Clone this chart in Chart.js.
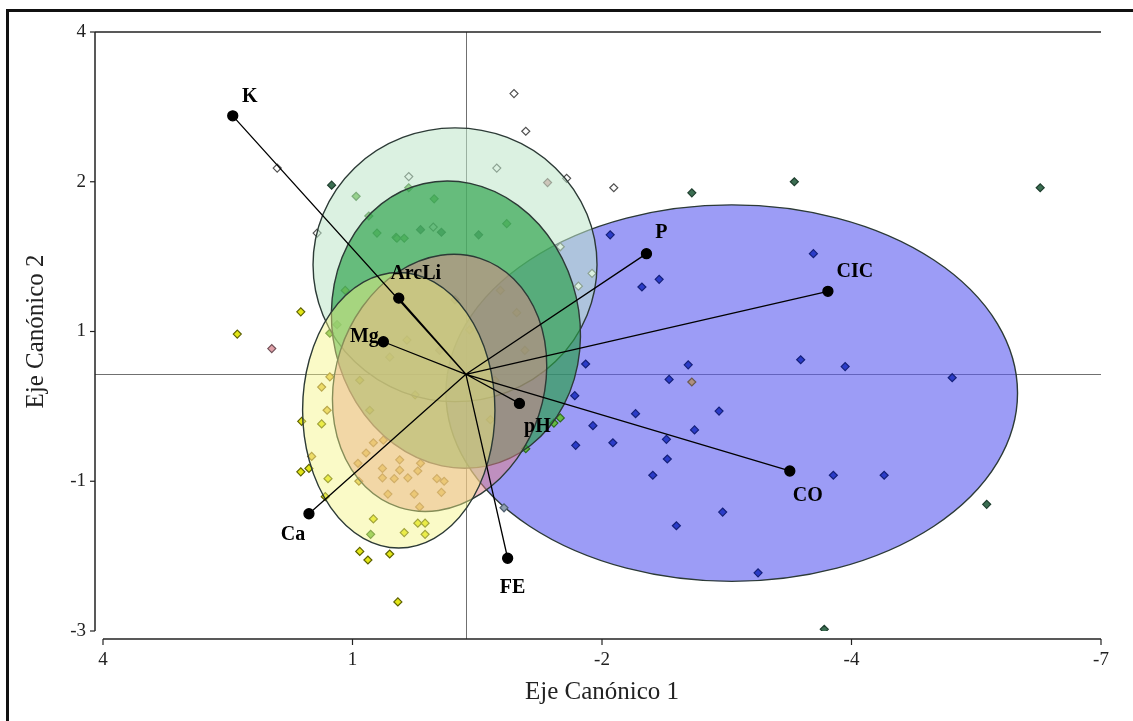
<!DOCTYPE html>
<html lang="es">
<head>
<meta charset="utf-8">
<title>Análisis canónico</title>
<script src="https://cdn.jsdelivr.net/npm/chart.js@4.4.1/dist/chart.umd.min.js"></script>
<style>
    html, body { margin: 0; padding: 0; background: #fff; overflow: hidden; }
    #marco { position: absolute; left: 0; top: 0; width: 1133px; height: 721px; }
    #marco canvas { position: absolute; left: 0; top: 0; }
    #borde {
        position: absolute; left: 6px; top: 9px; width: 1127px; height: 712px;
        box-sizing: border-box; border-left: 3px solid #111; border-top: 3px solid #111;
        pointer-events: none;
    }
</style>
</head>
<body>
<div id="marco">
    <canvas id="grafico" width="1133" height="721"></canvas>
    <div id="borde"></div>
</div>
<script>
// Marcas de los ejes (la escala original muestra los valores redondeados)
const ticksX = [4, 1.25, -1.5, -4.25, -7];
const etiquetasX = ['4', '1', '-2', '-4', '-7'];
const ticksY = [4, 2.25, 0.5, -1.25, -3];
const etiquetasY = ['4', '2', '1', '-1', '-3'];

// Vectores de las variables
const variables = ['K', 'ArcLi', 'Mg', 'Ca', 'FE', 'pH', 'P', 'CIC', 'CO'];
const vectorX = [2.57, 0.74, 0.91, 1.73, -0.46, -0.59, -1.99, -3.99, -3.57];
const vectorY = [3.02, 0.89, 0.38, -1.63, -2.15, -0.34, 1.41, 0.97, -1.13];

// Observaciones por grupo
const blancoX = [2.08, 1.64, -0.53, -0.66, -0.34, 0.63, -1.11, -1.63, -1.04, 0.36, -1.39, -1.24];
const blancoY = [2.41, 1.65, 3.28, 2.84, 2.41, 2.31, 2.29, 2.18, 1.49, 1.72, 1.18, 1.03];
const rosadoX = [2.14, -0.90];
const rosadoY = [0.30, 2.24];
const malvaX = [-2.49, -0.38, -0.56, -0.04, -0.65, -0.32, -0.27, 0.12, 0.29];
const malvaY = [-0.09, 0.98, 0.72, 0.52, 0.28, -0.07, -0.53, 0.87, 0.28];
const grisX = [-0.42];
const grisY = [-1.56];
const verdeOscuroX = [1.48, -3.62, -2.49, -6.33, -5.74, -3.95, 0.27, 0.50, -0.14];
const verdeOscuroY = [2.21, 2.25, 2.12, 2.18, -1.52, -2.98, 1.66, 1.69, 1.63];
const verdeX = [1.21, 1.07, 0.98, 0.77, 0.63, 0.35, 0.76, 0.68, -0.45, -1.04, -0.97, -0.66, 1.05, 1.50, 1.42];
const verdeY = [2.08, 1.85, 1.65, 1.60, 2.18, 2.05, 1.59, 1.59, 1.76, -0.51, -0.57, -0.87, -1.87, 0.48, 0.58];
const azulX = [-1.59, -2.13, -1.94, -1.32, -2.45, -2.24, -1.20, -2.79, -1.87, -1.40, -2.52, -1.62, -1.21,
               -2.21, -2.22, -2.06, -2.83, -2.32, -3.22, -3.83, -3.69, -4.18, -5.36, -4.05, -4.61];
const azulY = [1.63, 1.11, 1.02, 0.12, 0.11, -0.06, -0.25, -0.43, -0.46, -0.60, -0.65, -0.80, -0.83,
               -0.76, -0.99, -1.18, -1.61, -1.77, -2.32, 1.41, 0.17, 0.09, -0.04, -1.18, -1.18];
const amarilloX = [2.52, 1.82, 1.81, 1.82, 1.73, 1.52, 1.55, 1.02, 1.17, 1.08, 0.84, 0.75, 0.68, 0.45,
                   0.53, 0.45, 1.59, 1.33, 0.65, 0.84, 1.17, 0.56, 1.06];
const amarilloY = [0.47, 0.73, -0.55, -1.14, -1.10, -1.22, -1.43, -1.69, -2.07, -2.17, -2.10, -2.66, -1.85, -1.87,
                   -1.74, -1.74, -0.58, 0.98, 0.40, 0.20, -0.07, -0.24, -0.42];
const duraznoX = [1.19, 1.10, 1.02, 0.91, 0.92, 0.92, 0.79, 0.73, 0.64, 0.73, 0.53, 0.50, 0.86, 0.57,
                  0.32, 0.24, 0.27, 1.18, 1.53, 1.70, 1.50, 1.59, 0.51];
const duraznoY = [-1.04, -0.92, -0.80, -0.77, -1.10, -1.21, -1.22, -1.00, -1.21, -1.12, -1.13, -1.04, -1.40, -1.40,
                  -1.22, -1.25, -1.38, -1.25, -0.42, -0.96, -0.03, -0.15, -1.55];

// Elipses de confianza: centro, semiejes y giro (grados), en el orden en que se pintan
// azul, menta, verde, salmón, amarillo
const elipseCx = [-2.93, 0.12, 0.11, 0.29, 0.74];
const elipseCy = [-0.22, 1.28, 0.58, -0.10, -0.42];
const elipseRx = [3.15, 1.565, 1.36, 1.15, 1.06];
const elipseRy = [2.20, 1.60, 1.69, 1.53, 1.61];
const elipseGiro = [0, 0, -13, 18, 0];

const rellenoElipse = [
    'rgba(90, 90, 240, 0.6)',
    'rgba(190, 230, 200, 0.55)',
    'rgba(40, 160, 70, 0.65)',
    'rgba(225, 130, 135, 0.5)',
    'rgba(245, 245, 130, 0.45)'
];

const serif = '"Liberation Serif", "Times New Roman", serif';
const separacionEje = 8;

function puntos(xs, ys) {
    return xs.map((x, i) => ({ x: x, y: ys[i] }));
}

function datosVectores() {
    const datos = [];
    vectorX.forEach((x, i) => {
        datos.push({ x: 0, y: 0 });
        datos.push({ x: x, y: vectorY[i] });
        datos.push({ x: NaN, y: NaN });
    });
    return datos;
}

function grupo(nombre, xs, ys, fondo, borde) {
    return {
        label: nombre,
        data: puntos(xs, ys),
        pointStyle: 'rectRot',
        pointRadius: 4,
        pointBackgroundColor: fondo,
        pointBorderColor: borde,
        pointBorderWidth: 1.2,
        order: 1
    };
}

function dibujarElipse(chart, i) {
    const { ctx, scales: { x, y } } = chart;
    const px = x.getPixelForValue(elipseCx[i]);
    const py = y.getPixelForValue(elipseCy[i]);
    const rx = Math.abs(x.getPixelForValue(elipseCx[i] + elipseRx[i]) - px);
    const ry = Math.abs(y.getPixelForValue(elipseCy[i] + elipseRy[i]) - py);
    ctx.beginPath();
    ctx.ellipse(px, py, rx, ry, elipseGiro[i] * Math.PI / 180, 0, Math.PI * 2);
    ctx.fillStyle = rellenoElipse[i];
    ctx.fill();
    ctx.lineWidth = 1.4;
    ctx.strokeStyle = '#2c3a36';
    ctx.stroke();
}

function linea(ctx, x1, y1, x2, y2) {
    ctx.beginPath();
    ctx.moveTo(x1, y1);
    ctx.lineTo(x2, y2);
    ctx.stroke();
}

const pluginBiplot = {
    id: 'biplot',
    beforeDatasetsDraw(chart) {
        const { ctx, chartArea: a, scales: { x, y } } = chart;
        const ejeIzq = a.left - separacionEje;
        const ejeInf = a.bottom + separacionEje;
        ctx.save();
        // líneas por el origen
        ctx.strokeStyle = '#707070';
        ctx.lineWidth = 1;
        const x0 = Math.round(x.getPixelForValue(0)) + 0.5;
        const y0 = Math.round(y.getPixelForValue(0)) + 0.5;
        linea(ctx, ejeIzq, y0, a.right, y0);
        linea(ctx, x0, a.top, x0, ejeInf);
        // marco superior y ejes
        ctx.strokeStyle = '#222';
        ctx.lineWidth = 1.5;
        linea(ctx, ejeIzq, a.top, a.right, a.top);
        linea(ctx, ejeIzq, a.top, ejeIzq, a.bottom);
        linea(ctx, a.left, ejeInf, a.right, ejeInf);
        ctx.lineWidth = 1.2;
        ticksY.forEach(v => {
            const p = y.getPixelForValue(v);
            linea(ctx, ejeIzq - 5, p, ejeIzq, p);
        });
        ticksX.forEach(v => {
            const p = x.getPixelForValue(v);
            linea(ctx, p, ejeInf, p, ejeInf + 6);
        });
        dibujarElipse(chart, 0);
        ctx.restore();
    },
    beforeDatasetDraw(chart, args) {
        // el resto de elipses tapa los puntos pero queda bajo los vectores
        if (args.index !== chart.data.datasets.length - 1) return;
        chart.ctx.save();
        for (let i = 1; i < elipseCx.length; i++) dibujarElipse(chart, i);
        chart.ctx.restore();
    },
    afterDatasetsDraw(chart) {
        const { ctx, scales: { x, y } } = chart;
        const desplaza = {
            K: [17, -19], ArcLi: [17, -24], Mg: [-19, -5], Ca: [-16, 21], FE: [5, 30],
            pH: [18, 23], P: [15, -21], CIC: [27, -19], CO: [18, 25]
        };
        ctx.save();
        ctx.font = 'bold 20px ' + serif;
        ctx.fillStyle = '#000';
        ctx.textAlign = 'center';
        ctx.textBaseline = 'middle';
        variables.forEach((v, i) => {
            const d = desplaza[v];
            ctx.fillText(v, x.getPixelForValue(vectorX[i]) + d[0], y.getPixelForValue(vectorY[i]) + d[1]);
        });
        ctx.restore();
    }
};

const grafico = new Chart(document.getElementById('grafico'), {
    type: 'scatter',
    data: {
        datasets: [
            grupo('Blanco', blancoX, blancoY, '#ffffff', '#505050'),
            grupo('Rosado', rosadoX, rosadoY, '#e0a0a8', '#705058'),
            grupo('Malva', malvaX, malvaY, '#b09080', '#6a5a50'),
            grupo('Gris', grisX, grisY, '#90a0b0', '#506070'),
            grupo('Verde oscuro', verdeOscuroX, verdeOscuroY, '#3b6e52', '#1f3f2f'),
            grupo('Verde', verdeX, verdeY, '#66bb44', '#2f6a20'),
            grupo('Azul', azulX, azulY, '#2b3cc8', '#15207a'),
            grupo('Amarillo', amarilloX, amarilloY, '#e3e617', '#5e6200'),
            grupo('Durazno', duraznoX, duraznoY, '#e8c850', '#8a6a20'),
            {
                label: 'Variables',
                data: datosVectores(),
                showLine: true,
                spanGaps: false,
                borderColor: '#000',
                borderWidth: 1.3,
                pointRadius: ctx => (ctx.raw && ctx.raw.x === 0 && ctx.raw.y === 0) ? 0 : 5,
                pointStyle: 'circle',
                pointBackgroundColor: '#000',
                pointBorderColor: '#000',
                order: 0
            }
        ]
    },
    options: {
        responsive: false,
        animation: false,
        devicePixelRatio: 1,
        layout: { padding: { top: 32, right: 32, left: 0, bottom: 0 } },
        plugins: {
            legend: { display: false },
            tooltip: { enabled: false }
        },
        scales: {
            x: {
                type: 'linear',
                min: -7,
                max: 4,
                reverse: true,
                grid: { display: false, drawTicks: false },
                border: { display: false },
                afterBuildTicks: s => { s.ticks = ticksX.map(v => ({ value: v })); },
                afterFit: s => { s.height = 90; },
                ticks: {
                    autoSkip: false,
                    maxRotation: 0,
                    padding: 18,
                    color: '#222',
                    font: { family: serif, size: 19 },
                    callback: (v, i) => etiquetasX[i]
                },
                title: {
                    display: true,
                    text: 'Eje Canónico 1',
                    color: '#222',
                    font: { family: serif, size: 25 },
                    padding: { top: 0, bottom: 14 }
                }
            },
            y: {
                type: 'linear',
                min: -3,
                max: 4,
                grid: { display: false, drawTicks: false },
                border: { display: false },
                afterBuildTicks: s => { s.ticks = ticksY.map(v => ({ value: v })); },
                afterFit: s => { s.width = 103; },
                ticks: {
                    autoSkip: false,
                    padding: 17,
                    color: '#222',
                    font: { family: serif, size: 19 },
                    callback: (v, i) => etiquetasY[i]
                },
                title: {
                    display: true,
                    text: 'Eje Canónico 2',
                    color: '#222',
                    font: { family: serif, size: 25 },
                    padding: { top: 21, bottom: 0 }
                }
            }
        }
    },
    plugins: [pluginBiplot]
});
</script>
</body>
</html>
